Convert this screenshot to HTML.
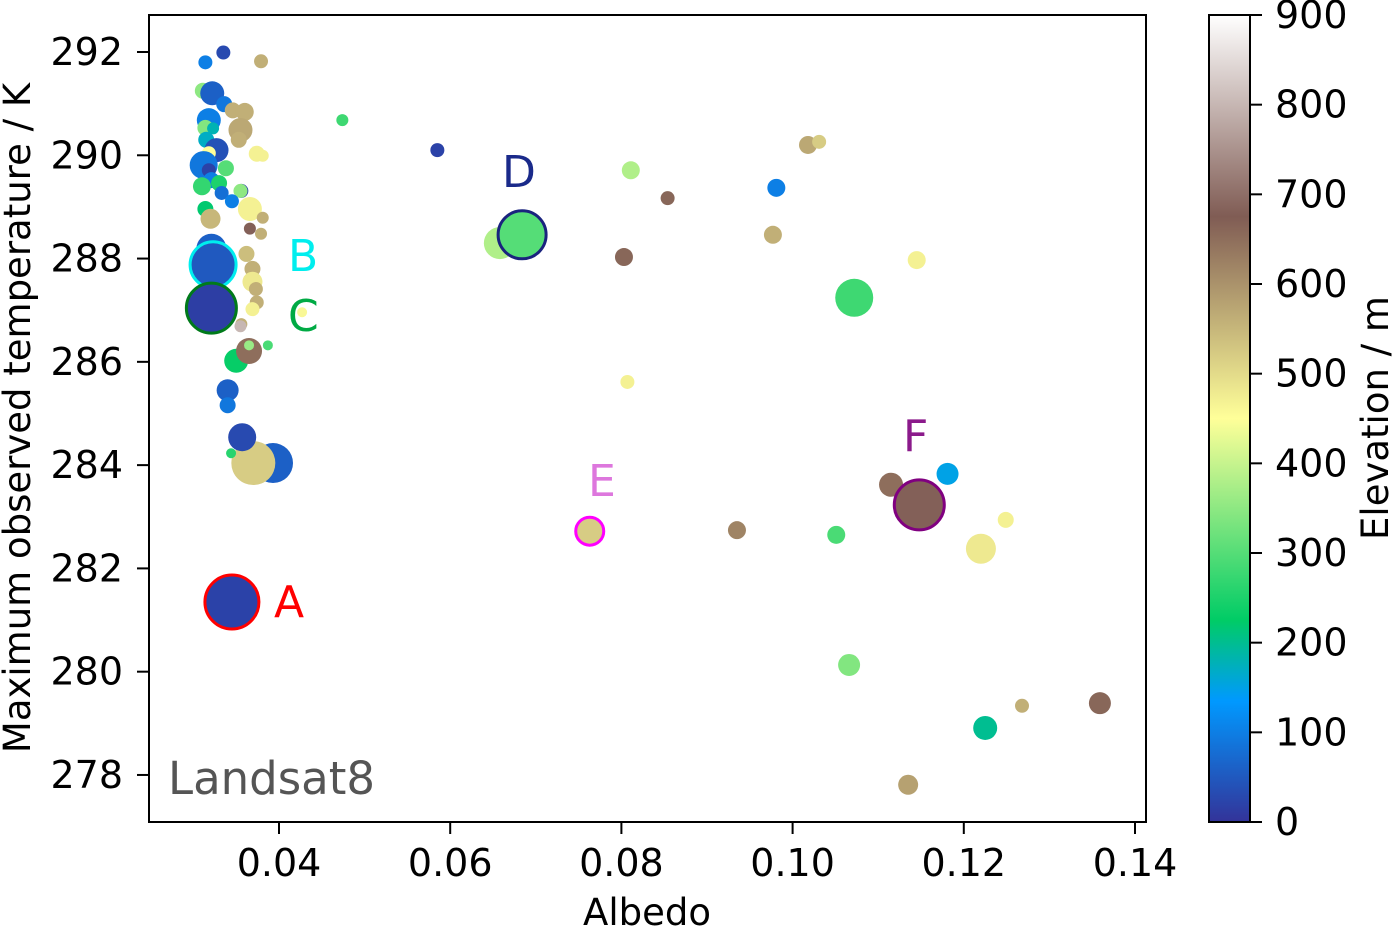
<!DOCTYPE html>
<html><head><meta charset="utf-8">
<style>
html,body{margin:0;padding:0;background:#fff;}
svg{display:block;font-family:"DejaVu Sans","Liberation Sans",sans-serif;}
</style></head>
<body>
<svg id="chart" width="1392" height="928" viewBox="0 0 1392 928" xmlns="http://www.w3.org/2000/svg">
<defs>
<linearGradient id="terrain" x1="0" y1="1" x2="0" y2="0">
<stop offset="0" stop-color="rgb(51,51,153)"/>
<stop offset="0.15" stop-color="rgb(0,153,255)"/>
<stop offset="0.25" stop-color="rgb(0,204,102)"/>
<stop offset="0.5" stop-color="rgb(255,255,153)"/>
<stop offset="0.75" stop-color="rgb(128,92,84)"/>
<stop offset="1" stop-color="rgb(255,255,255)"/>
</linearGradient>
<clipPath id="plotclip"><rect x="149" y="15" width="997" height="807"/></clipPath>
</defs>
<g id="points" clip-path="url(#plotclip)"></g>
<rect x="149" y="15" width="997" height="807" fill="none" stroke="#000" stroke-width="2"/>
<g id="xticks"></g>
<g id="yticks"></g>
<text x="647" y="925" font-size="37" text-anchor="middle">Albedo</text>
<text transform="translate(30,418) rotate(-90)" font-size="37" text-anchor="middle">Maximum observed temperature / K</text>
<text x="168" y="794" font-size="45" fill="#555">Landsat8</text>
<g font-size="44">
<text x="274" y="617" fill="#ff0000">A</text>
<text x="288" y="271" fill="#00eeee">B</text>
<text x="288" y="331" fill="#00aa44">C</text>
<text x="502" y="187" fill="#1a2a8a">D</text>
<text x="588" y="496" fill="#dd77dd">E</text>
<text x="903" y="451" fill="#8b1a8b">F</text>
</g>
<rect x="1209" y="15" width="41" height="807" fill="url(#terrain)" stroke="#000" stroke-width="2"/>
<g id="cbticks"></g>
<text transform="translate(1388,418) rotate(-90)" font-size="37" text-anchor="middle">Elevation / m</text>
</svg>
<script>
const albedo=[0.0474,0.0585,0.0658,0.0811,0.0854,0.0803,0.1018,0.1031,0.0981,0.0977,0.1072,0.1145,0.0807,0.0935,0.1051,0.1115,0.1181,0.1249,0.1220,0.1066,0.1225,0.1268,0.1359,0.1135,0.0393,0.0370,0.0357,0.0344,0.0340,0.0340,0.0350,0.0365,
0.0314,0.0335,0.0379,0.0311,0.0322,0.0336,0.0346,0.0360,0.0355,0.0353,0.0318,0.0314,0.0323,0.0315,0.0327,0.0318,0.0312,0.0318,0.0338,0.0321,0.0374,0.0381,0.0310,0.0330,0.0333,0.0356,0.0355,0.0345,0.0314,0.0320,0.0366,0.0381,0.0379,0.0366,0.0321,0.0315,0.0362,0.0369,0.0369,0.0373,0.0374,0.0369,0.0356,0.0355,0.0365,0.0387,0.0427,
0.0684,0.0763,0.1148,0.0345,0.0323,0.0321];
const temperature=[290.68,290.10,288.30,289.71,289.17,288.03,290.20,290.26,289.37,288.46,287.24,287.97,285.61,282.74,282.65,283.62,283.83,282.94,282.38,280.13,278.91,279.34,279.39,277.81,284.04,284.04,284.54,284.23,285.45,285.16,286.02,286.21,
291.80,291.99,291.82,291.25,291.20,290.99,290.87,290.84,290.49,290.30,290.68,290.53,290.52,290.30,290.10,290.04,289.81,289.71,289.75,289.52,290.03,289.99,289.40,289.46,289.27,289.31,289.31,289.11,288.96,288.77,288.96,288.79,288.48,288.58,288.19,288.09,288.09,287.80,287.55,287.41,287.15,287.02,286.73,286.69,286.32,286.32,286.96,
288.46,282.72,283.23,281.35,287.88,287.04];
const elevation=[280,20,380,380,660,660,570,520,100,560,280,470,470,620,290,650,150,470,480,340,200,560,660,580,60,520,30,260,60,90,230,650,
100,30,560,350,60,90,560,560,570,560,100,340,180,170,40,450,90,20,300,100,470,470,270,250,80,20,350,100,220,550,470,560,560,680,60,30,540,560,480,560,560,470,560,800,360,290,460,
300,520,680,20,50,15];
const markerRadius=[6,7,16,9,7,9,9,7,9,9,19,9,7,9,9,12,11,8,15,11,12,7,11,10,20,22,14,5,11,8,12,13,
7,7,7,8,12,8,8,9,12,8,12,8,6,8,12,7,14,7,8,8,8,6,9,8,7,7,7,7,8,10,12,6,6,6,15,12,8,8,10,7,7,7,6,6,5,5,5,
24,14,25,27,23,25];
const outline=[];outline[79]="#1a237e";outline[80]="#ff00ff";outline[81]="#800080";outline[82]="#ff0000";outline[83]="#00eeee";outline[84]="#007a1a";
const xTicks=[0.04,0.06,0.08,0.10,0.12,0.14];
const xTickLabels=["0.04","0.06","0.08","0.10","0.12","0.14"];
const yTicks=[278,280,282,284,286,288,290,292];
const cbTicks=[0,100,200,300,400,500,600,700,800,900];

const X=v=>279+(v-0.04)*8560;
const Y=v=>52+(292-v)*51.64;
const C=v=>822-v*807/900;
const stops=[[0,[51,51,153]],[0.15,[0,153,255]],[0.25,[0,204,102]],[0.5,[255,255,153]],[0.75,[128,92,84]],[1,[255,255,255]]];
function cmap(e){let t=Math.max(0,Math.min(1,e/900));
 for(let i=1;i<stops.length;i++){if(t<=stops[i][0]){const a=stops[i-1],b=stops[i];const f=(t-a[0])/(b[0]-a[0]);
 return 'rgb('+a[1].map((c,k)=>Math.round(c+(b[1][k]-c)*f)).join(',')+')';}}return 'rgb(255,255,255)';}
const NS="http://www.w3.org/2000/svg";
const pg=document.getElementById('points');
for(let i=0;i<albedo.length;i++){
 const c=document.createElementNS(NS,'circle');
 c.setAttribute('cx',X(albedo[i]));c.setAttribute('cy',Y(temperature[i]));
 c.setAttribute('r',markerRadius[i]);c.setAttribute('fill',cmap(elevation[i]));
 if(outline[i]){c.setAttribute('stroke',outline[i]);c.setAttribute('stroke-width',3);}
 
 
 pg.appendChild(c);}
const xg=document.getElementById('xticks');
xTicks.forEach((v,i)=>{const x=X(v);
 const l=document.createElementNS(NS,'line');l.setAttribute('x1',x);l.setAttribute('x2',x);l.setAttribute('y1',822);l.setAttribute('y2',834);l.setAttribute('stroke','#000');l.setAttribute('stroke-width',2);
 
 
 xg.appendChild(l);
 const t=document.createElementNS(NS,'text');t.setAttribute('x',x);t.setAttribute('y',876);t.setAttribute('font-size',38);t.setAttribute('text-anchor','middle');t.textContent=xTickLabels[i];
 
 
 xg.appendChild(t);});
const yg=document.getElementById('yticks');
yTicks.forEach(v=>{const y=Y(v);
 const l=document.createElementNS(NS,'line');l.setAttribute('x1',137);l.setAttribute('x2',149);l.setAttribute('y1',y);l.setAttribute('y2',y);l.setAttribute('stroke','#000');l.setAttribute('stroke-width',2);
 
 
 yg.appendChild(l);
 const t=document.createElementNS(NS,'text');t.setAttribute('x',123);t.setAttribute('y',y+13);t.setAttribute('font-size',38);t.setAttribute('text-anchor','end');t.textContent=v;
 
 
 yg.appendChild(t);});
const cg=document.getElementById('cbticks');
cbTicks.forEach(v=>{const y=C(v);
 const l=document.createElementNS(NS,'line');l.setAttribute('x1',1250);l.setAttribute('x2',1262);l.setAttribute('y1',y);l.setAttribute('y2',y);l.setAttribute('stroke','#000');l.setAttribute('stroke-width',2);
 
 
 cg.appendChild(l);
 const t=document.createElementNS(NS,'text');t.setAttribute('x',1275);t.setAttribute('y',y+13);t.setAttribute('font-size',38);t.textContent=v;
 
 
 cg.appendChild(t);});
</script>
</body></html>
